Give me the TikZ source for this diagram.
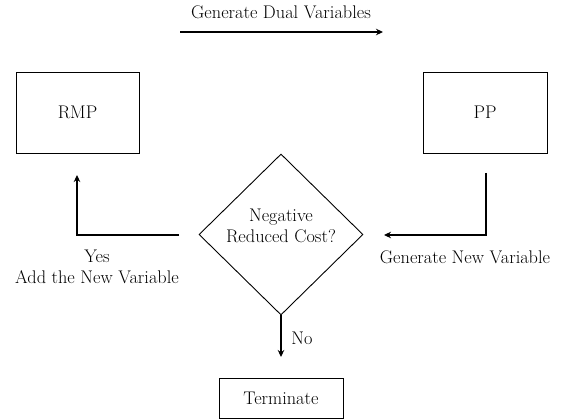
\documentclass[tikz,border=0pt]{standalone}
\usetikzlibrary{shapes.geometric,arrows.meta}
\begin{document}
\begin{tikzpicture}[x=1pt,y=-1pt,
  every node/.style={font=\fontsize{18.3}{21}\selectfont},
  box/.style={draw,line width=0.9pt,inner sep=0pt},
  decision/.style={draw,diamond,aspect=1,line width=0.9pt,inner sep=0pt,
    minimum width=164pt,minimum height=161pt},
  flow/.style={line width=1.4pt,-{Stealth[length=7pt,width=6.5pt]}},
  lbl/.style={align=center,inner sep=0pt}]
\useasboundingbox (0,0) rectangle (567,419);

% process boxes
\node[box,minimum width=123pt,minimum height=81pt] (rmp) at (77.5,112.5) {RMP};
\node[box,minimum width=124pt,minimum height=81pt] (pp) at (485,112.5) {PP};
\node[box,minimum width=124pt,minimum height=40pt] (term) at (281,398) {Terminate};

% decision
\node[decision] (dec) at (281,234.5) {};
\node[lbl] (dectxt) at (281,226) {Negative\\Reduced Cost?};

% connector end points
\coordinate (dualL) at (180,32);
\coordinate (dualR) at (383,32);
\coordinate (ppout) at (486,173);
\coordinate (decin) at (384,235);
\coordinate (decout) at (179,235);
\coordinate (rmpin) at (77,175);
\coordinate (termin) at (281,357);

% connectors
\draw[flow] (dualL) -- (dualR);
\draw[flow] (ppout) |- (decin);
\draw[flow] (decout) -| (rmpin);
\draw[flow] (dec.south) -- (termin);

% labels
\node[lbl] (dual) at (281,12) {Generate Dual Variables};
\node[lbl] (gen) at (465,257) {Generate New Variable};
\node[lbl] (yes) at (97,267) {Yes\\Add the New Variable};
\node[lbl] (no) at (302,338) {No};
\end{tikzpicture}
\end{document}
